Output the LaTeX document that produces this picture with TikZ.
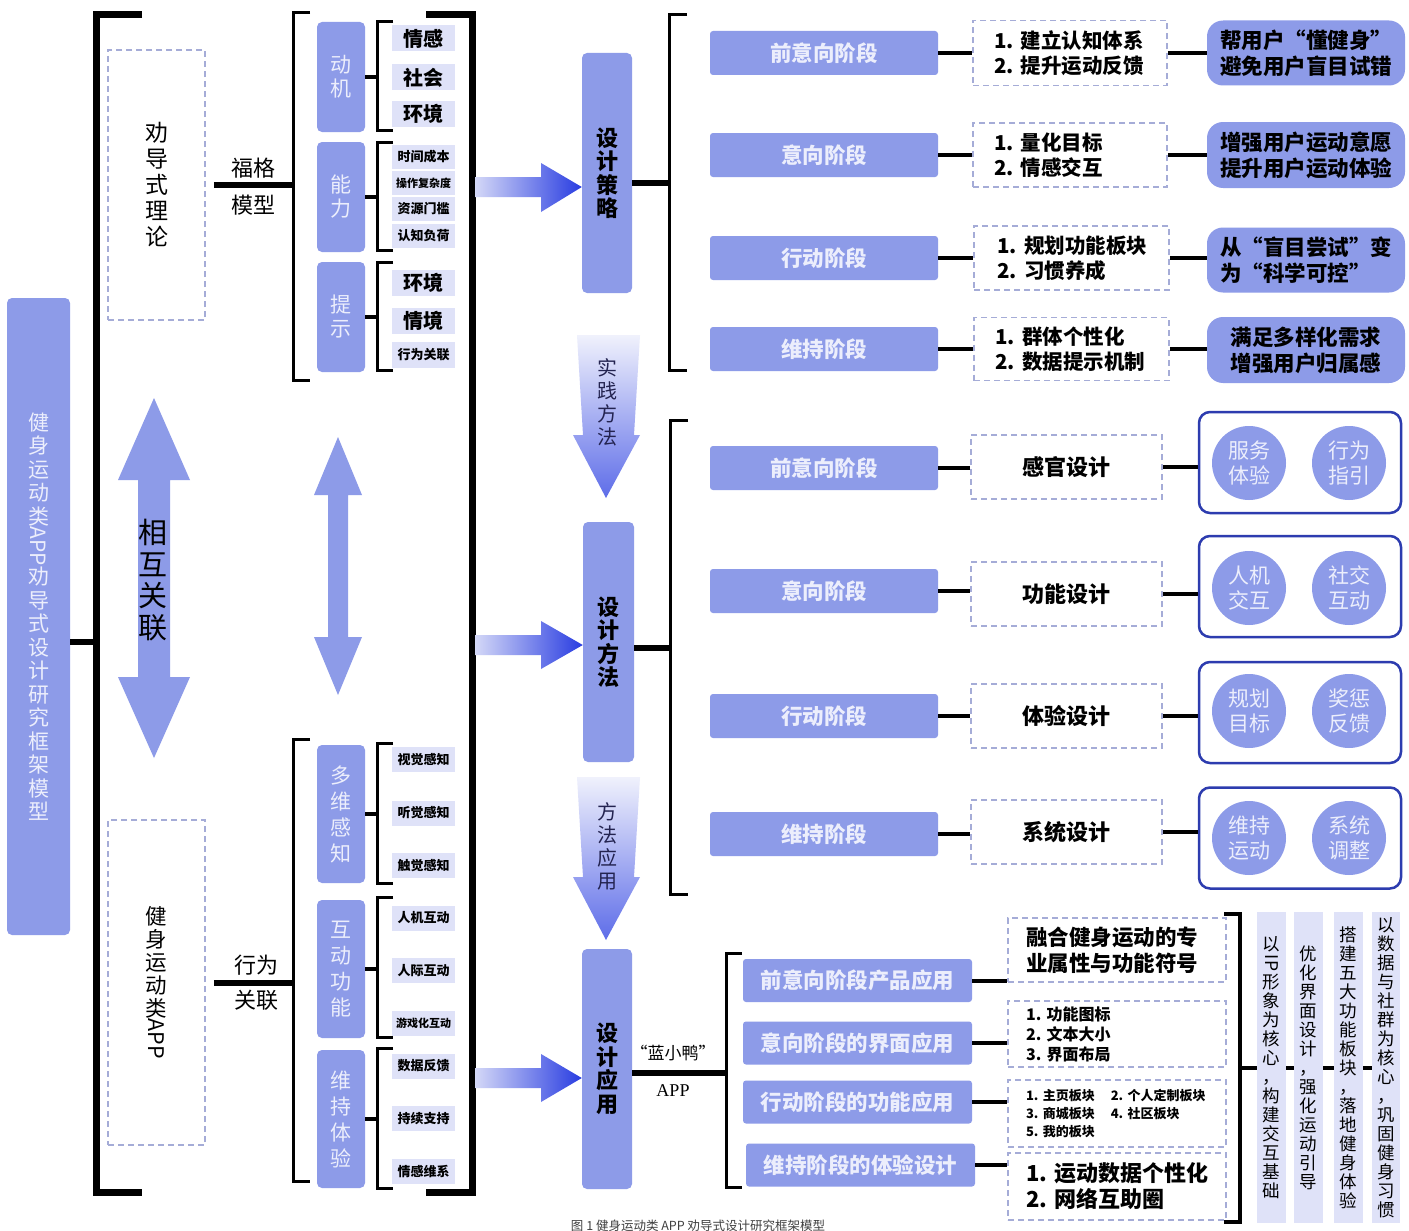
\documentclass[tikz,border=0pt]{standalone}
\usepackage{fontspec}
\setmainfont{Noto Sans CJK SC}
\newfontfamily\latinserif{Liberation Serif}
\usetikzlibrary{calc}
\definecolor{lavblue}{RGB}{141,155,232}
\definecolor{palelav}{RGB}{223,226,248}
\definecolor{dashgray}{RGB}{165,172,215}
\definecolor{navyline}{RGB}{45,60,175}
\definecolor{arrdark}{RGB}{40,60,225}
\definecolor{arrlight}{RGB}{212,216,247}
\definecolor{paletext}{RGB}{236,238,252}
\definecolor{inktext}{RGB}{35,35,80}
\newcommand\fsz[2]{\fontsize{#1}{#2}\selectfont}
\tikzset{
  bar/.style={fill=lavblue, rounded corners=5pt, inner sep=0pt, text=paletext},
  item/.style={fill=palelav, inner sep=0pt, minimum width=63pt, minimum height=26pt, font=\fsz{20}{22}\bfseries},
  itemsm/.style={item, minimum height=24pt, font=\fsz{13}{15}\bfseries},
  stage/.style={fill=lavblue, rounded corners=3pt, inner sep=0pt, minimum width=228pt, minimum height=44pt, text=paletext, font=\fsz{21.5}{24}\bfseries},
  dbox/.style={draw=dashgray, line width=1.5pt, dash pattern=on 6pt off 4pt, inner sep=0pt},
  pill/.style={fill=lavblue, rounded corners=16pt, inner sep=0pt, minimum width=198pt, minimum height=65pt, align=center, font=\fsz{21.5}{26}\bfseries},
  grp/.style={draw=navyline, line width=2.5pt, rounded corners=11pt, fill=white, minimum width=202pt, minimum height=101pt},
  circnode/.style={circle, fill=lavblue, minimum size=74pt, inner sep=0pt, align=center, text=paletext, font=\fsz{21}{25}},
  vcol/.style={fill=palelav, minimum height=311pt, inner sep=0pt, align=center, font=\fsz{17.5}{19}},
  link/.style={line width=4pt},
  brk/.style={line width=3pt},
  bigbrk/.style={line width=7pt},
}
\begin{document}
\begin{tikzpicture}[x=1pt, y=-1pt]
  \useasboundingbox (0,0) rectangle (1409,1231);
  \fill[white] (0,0) rectangle (1409,1231);

  % title column and outer bracket
  \node[bar, minimum width=63pt, minimum height=637pt, align=center, font=\fsz{21}{23.5}] (title) at (38.5,616.5) {健\\身\\运\\动\\类\\\rotatebox[origin=c]{-90}{APP}\\劝\\导\\式\\设\\计\\研\\究\\框\\架\\模\\型};
  \coordinate (mbT) at (96,15);
  \coordinate (mbB) at (96,1192);
  \draw[bigbrk] ([xshift=46pt]mbT) -- (mbT) -- (mbB) -- ([xshift=46pt]mbB);
  \draw[link, line width=6pt] ([yshift=-25.5pt]title.east) -- ([yshift=-25.5pt]title.east -| mbT);

  % theory and app category
  \node[dbox, minimum width=97pt, minimum height=270pt, align=center, font=\fsz{23}{26}] (theory) at (156.5,185) {劝\\导\\式\\理\\论};
  \node[dbox, minimum width=97pt, minimum height=325pt, align=center, font=\fsz{21.5}{23}] (appcat) at (156.5,982.5) {健\\身\\运\\动\\类\\\rotatebox[origin=c]{-90}{APP}};

  % mutual relation arrows
  \fill[lavblue] (154,398) -- (190,480) -- (170,480) -- (170,677) -- (190,677) -- (154,758) -- (118,677) -- (138,677) -- (138,480) -- (118,480) -- cycle;
  \node[font=\fsz{29}{31.5}, align=center] (mutual) at (153,580) {相\\互\\关\\联};
  \fill[lavblue] (338,437) -- (362,495) -- (348,495) -- (348,637) -- (362,637) -- (338,695) -- (314,637) -- (328,637) -- (328,495) -- (314,495) -- cycle;

  % Fogg model branch
  \coordinate (fgT) at (293,13);
  \coordinate (fgB) at (293,380);
  \draw[brk] ([xshift=17pt]fgT) -- (fgT) -- (fgB) -- ([xshift=17pt]fgB);
  \draw[link, line width=6pt] ([xshift=8pt]theory.east) -- (theory.east -| fgT);
  \node[font=\fsz{22}{24}] (fogg1) at (253,168) {福格};
  \node[font=\fsz{22}{24}] (fogg2) at (253,205) {模型};

  \node[bar, minimum width=48pt, minimum height=110pt, align=center, font=\fsz{21}{24}] (motiv) at (341,77) {动\\机};
  \node[bar, minimum width=48pt, minimum height=110pt, align=center, font=\fsz{21}{24}] (abil) at (341,197) {能\\力};
  \node[bar, minimum width=48pt, minimum height=110pt, align=center, font=\fsz{21}{24}] (prompt) at (341,317) {提\\示};

  \coordinate (b1T) at (377,22);
  \coordinate (b1B) at (377,130);
  \coordinate (b2T) at (377,142);
  \coordinate (b2B) at (377,250);
  \coordinate (b3T) at (377,262);
  \coordinate (b3B) at (377,370);
  \draw[brk] ([xshift=16pt]b1T) -- (b1T) -- (b1B) -- ([xshift=16pt]b1B);
  \draw[brk] ([xshift=16pt]b2T) -- (b2T) -- (b2B) -- ([xshift=16pt]b2B);
  \draw[brk] ([xshift=16pt]b3T) -- (b3T) -- (b3B) -- ([xshift=16pt]b3B);
  \draw[link] (motiv.east) -- (motiv.east -| b1T);
  \draw[link] (abil.east) -- (abil.east -| b2T);
  \draw[link] (prompt.east) -- (prompt.east -| b3T);

  \node[item] (emo) at (423.5,38.5) {情感};
  \node[item] (soc) at (423.5,77.5) {社会};
  \node[item] (env) at (423.5,113.5) {环境};
  \node[itemsm] (tcost) at (423.5,157) {时间成本};
  \node[itemsm, font=\fsz{11}{13}\bfseries] (ocomp) at (423.5,183) {操作复杂度};
  \node[itemsm] (rthr) at (423.5,209) {资源门槛};
  \node[itemsm] (cload) at (423.5,236) {认知负荷};
  \node[item] (env2) at (423.5,283) {环境};
  \node[item] (situ) at (423.5,321) {情境};
  \node[itemsm, minimum height=26pt] (brel) at (423.5,355) {行为关联};

  % behaviour relation branch
  \coordinate (bhT) at (293,739);
  \coordinate (bhB) at (293,1181);
  \draw[brk] ([xshift=17pt]bhT) -- (bhT) -- (bhB) -- ([xshift=17pt]bhB);
  \draw[link, line width=6pt] ([xshift=8pt]appcat.east) -- (appcat.east -| bhT);
  \node[font=\fsz{22}{24}] (behav1) at (256,965) {行为};
  \node[font=\fsz{22}{24}] (behav2) at (256,1000) {关联};

  \node[bar, minimum width=48pt, minimum height=138pt, align=center, font=\fsz{21}{26}] (multi) at (341,814) {多\\维\\感\\知};
  \node[bar, minimum width=48pt, minimum height=138pt, align=center, font=\fsz{21}{26}] (inter) at (341,969) {互\\动\\功\\能};
  \node[bar, minimum width=48pt, minimum height=138pt, align=center, font=\fsz{21}{26}] (keep) at (341,1119) {维\\持\\体\\验};

  \coordinate (b4T) at (377,743);
  \coordinate (b4B) at (377,883);
  \coordinate (b5T) at (377,897);
  \coordinate (b5B) at (377,1037);
  \coordinate (b6T) at (377,1048);
  \coordinate (b6B) at (377,1188);
  \draw[brk] ([xshift=16pt]b4T) -- (b4T) -- (b4B) -- ([xshift=16pt]b4B);
  \draw[brk] ([xshift=16pt]b5T) -- (b5T) -- (b5B) -- ([xshift=16pt]b5B);
  \draw[brk] ([xshift=16pt]b6T) -- (b6T) -- (b6B) -- ([xshift=16pt]b6B);
  \draw[link] (multi.east) -- (multi.east -| b4T);
  \draw[link] (inter.east) -- (inter.east -| b5T);
  \draw[link] (keep.east) -- (keep.east -| b6T);

  \node[itemsm, minimum height=25pt] (vis) at (423.5,759.5) {视觉感知};
  \node[itemsm, minimum height=25pt] (aud) at (423.5,813) {听觉感知};
  \node[itemsm, minimum height=25pt] (tac) at (423.5,865.5) {触觉感知};
  \node[itemsm, minimum height=25pt] (hci) at (423.5,918) {人机互动};
  \node[itemsm, minimum height=25pt] (hhi) at (423.5,970.5) {人际互动};
  \node[itemsm, minimum height=25pt, font=\fsz{11}{13}\bfseries] (game) at (423.5,1023.5) {游戏化互动};
  \node[itemsm, minimum height=25pt] (dfb) at (423.5,1066) {数据反馈};
  \node[itemsm, minimum height=25pt] (csup) at (423.5,1118.5) {持续支持};
  \node[itemsm, minimum height=25pt] (emob) at (423.5,1171.5) {情感维系};

  % right bracket of the model
  \coordinate (rbT) at (472,15);
  \coordinate (rbB) at (472,1192);
  \draw[bigbrk] ([xshift=-46pt]rbT) -- (rbT) -- (rbB) -- ([xshift=-46pt]rbB);

  % design column
  \node[bar, minimum width=50pt, minimum height=240pt, align=center, text=black, font=\fsz{22}{23.5}\bfseries] (strat) at (607,173) {设\\计\\策\\略};
  \node[bar, minimum width=51pt, minimum height=240pt, align=center, text=black, font=\fsz{22}{23.5}\bfseries] (meth) at (608.5,642) {设\\计\\方\\法};
  \node[bar, minimum width=50pt, minimum height=240pt, align=center, text=black, font=\fsz{22}{23.5}\bfseries] (apply) at (607,1069) {设\\计\\应\\用};

  \shade[left color=arrlight, right color=arrdark] (475,177) -- (541,177) -- (541,163) -- (strat.west |- 0,187) -- (541,212) -- (541,197) -- (475,197) -- cycle;
  \shade[left color=arrlight, right color=arrdark] (475,635) -- (541,635) -- (541,621) -- (meth.west |- 0,645) -- (541,669) -- (541,655) -- (475,655) -- cycle;
  \shade[left color=arrlight, right color=arrdark] (475,1068) -- (541,1068) -- (541,1054) -- (apply.west |- 0,1078) -- (541,1102) -- (541,1088) -- (475,1088) -- cycle;

  \shade[top color=arrlight!35!white, bottom color=arrdark!75!white] (577,335) -- (640,335) -- (634,435) -- (640,435) -- (606,498) -- (573,435) -- (583,435) -- cycle;
  \node[font=\fsz{20}{23}, align=center, text=inktext] (practice) at (607,402) {实\\践\\方\\法};
  \shade[top color=arrlight!35!white, bottom color=arrdark!75!white] (577,777) -- (640,777) -- (634,877) -- (640,877) -- (606,940) -- (573,877) -- (583,877) -- cycle;
  \node[font=\fsz{20}{23}, align=center, text=inktext] (useit) at (607,846) {方\\法\\应\\用};

  % design strategy rows
  \coordinate (sbT) at (669,15);
  \coordinate (sbB) at (669,370);
  \draw[brk] ([xshift=18pt]sbT) -- (sbT) -- (sbB) -- ([xshift=18pt]sbB);
  \draw[link, line width=6pt] ([yshift=-10pt]strat.east) -- ([yshift=-10pt]strat.east -| sbT);

  \node[stage] (s1) at (824,53) {前意向阶段};
  \node[stage] (s2) at (824,155) {意向阶段};
  \node[stage] (s3) at (824,258) {行动阶段};
  \node[stage] (s4) at (824,349) {维持阶段};
  \node[dbox, minimum width=194pt, minimum height=65pt, text width=152pt, align=left, font=\fsz{20.5}{25}\bfseries] (d1) at (1070,53) {1.~建立认知体系\\2.~提升运动反馈};
  \node[dbox, minimum width=194pt, minimum height=64pt, text width=152pt, align=left, font=\fsz{20.5}{25}\bfseries] (d2) at (1070,155) {1.~量化目标\\2.~情感交互};
  \node[dbox, minimum width=195pt, minimum height=64pt, text width=148pt, align=left, font=\fsz{20.5}{25}\bfseries] (d3) at (1071.5,258) {1.~规划功能板块\\2.~习惯养成};
  \node[dbox, minimum width=195pt, minimum height=63pt, text width=152pt, align=left, font=\fsz{20.5}{25}\bfseries] (d4) at (1071.5,349) {1.~群体个性化\\2.~数据提示机制};
  \node[pill] (p1) at (1306,53) {帮用户“懂健身”\\避免用户盲目试错};
  \node[pill, minimum height=66pt] (p2) at (1306,155) {增强用户运动意愿\\提升用户运动体验};
  \node[pill, align=left] (p3) at (1306,260) {从“盲目尝试”变\\为“科学可控”};
  \node[pill, minimum height=66pt] (p4) at (1306,350) {满足多样化需求\\增强用户归属感};
  \draw[link] (s1) -- (d1);
  \draw[link] (s2) -- (d2);
  \draw[link] (s3) -- (d3);
  \draw[link] (s4) -- (d4);
  \draw[link] (d1.east) -- (d1.east -| p1.west);
  \draw[link] (d2.east) -- (d2.east -| p2.west);
  \draw[link] (d3.east) -- (d3.east -| p3.west);
  \draw[link] (d4.east) -- (d4.east -| p4.west);

  % design method rows
  \coordinate (mrT) at (670,420);
  \coordinate (mrB) at (670,894);
  \draw[brk] ([xshift=18pt]mrT) -- (mrT) -- (mrB) -- ([xshift=18pt]mrB);
  \draw[link, line width=6pt] ([yshift=-6pt]meth.east) -- ([yshift=-6pt]meth.east -| mrT);

  \node[stage] (m1) at (824,468) {前意向阶段};
  \node[stage] (m2) at (824,591) {意向阶段};
  \node[stage] (m3) at (824,716) {行动阶段};
  \node[stage] (m4) at (824,834) {维持阶段};
  \node[dbox, minimum width=191pt, minimum height=64pt, font=\fsz{22}{25}\bfseries] (e1) at (1066.5,467) {感官设计};
  \node[dbox, minimum width=191pt, minimum height=64pt, font=\fsz{22}{25}\bfseries] (e2) at (1066.5,594) {功能设计};
  \node[dbox, minimum width=191pt, minimum height=64pt, font=\fsz{22}{25}\bfseries] (e3) at (1066.5,716) {体验设计};
  \node[dbox, minimum width=191pt, minimum height=64pt, font=\fsz{22}{25}\bfseries] (e4) at (1066.5,832) {系统设计};
  \node[grp] (g1) at (1300,462.5) {};
  \node[grp] (g2) at (1300,586.5) {};
  \node[grp] (g3) at (1300,712.5) {};
  \node[grp] (g4) at (1300,838) {};
  \node[circnode] (c1a) at (1249,463) {服务\\体验};
  \node[circnode] (c1b) at (1349,463) {行为\\指引};
  \node[circnode] (c2a) at (1249,588) {人机\\交互};
  \node[circnode] (c2b) at (1349,588) {社交\\互动};
  \node[circnode] (c3a) at (1249,711) {规划\\目标};
  \node[circnode] (c3b) at (1349,711) {奖惩\\反馈};
  \node[circnode] (c4a) at (1249,838) {维持\\运动};
  \node[circnode] (c4b) at (1349,838) {系统\\调整};
  \draw[link] (m1.east) -- (m1.east -| e1.west);
  \draw[link] (m2.east) -- (m2.east -| e2.west);
  \draw[link] (m3.east) -- (m3.east -| e3.west);
  \draw[link] (m4.east) -- (m4.east -| e4.west);
  \draw[link] (e1.east) -- (e1.east -| g1.west);
  \draw[link] (e2.east) -- (e2.east -| g2.west);
  \draw[link] (e3.east) -- (e3.east -| g3.west);
  \draw[link] (e4.east) -- (e4.east -| g4.west);

  % design application rows
  \coordinate (abT) at (726,953);
  \coordinate (abB) at (726,1187);
  \draw[brk] ([xshift=16pt]abT) -- (abT) -- (abB) -- ([xshift=16pt]abB);
  \draw[link, line width=6pt] ([yshift=-4pt]apply.east) -- ([yshift=-4pt]apply.east -| abT);
  \node[font=\fsz{17}{19}] (duck) at (673,1053) {“蓝小鸭”};
  \node[font=\latinserif\fsz{18}{20}] (duckapp) at (673,1091) {APP};

  \node[stage, minimum width=229pt, minimum height=43pt] (a1) at (857.5,980.5) {前意向阶段产品应用};
  \node[stage, minimum width=229pt, minimum height=43pt] (a2) at (857.5,1043) {意向阶段的界面应用};
  \node[stage, minimum width=229pt, minimum height=43pt] (a3) at (857.5,1102) {行动阶段的功能应用};
  \node[stage, minimum width=229pt, minimum height=43pt] (a4) at (860.5,1165) {维持阶段的体验设计};
  \node[dbox, minimum width=218pt, minimum height=64pt, text width=182pt, align=left, font=\fsz{21.5}{26}\bfseries] (q1) at (1117,950) {融合健身运动的专\\业属性与功能符号};
  \node[dbox, minimum width=218pt, minimum height=66pt, text width=182pt, align=left, font=\fsz{16}{20}\bfseries] (q2) at (1117,1034) {1.~功能图标\\2.~文本大小\\3.~界面布局};
  \node[dbox, minimum width=218pt, minimum height=67pt, text width=182pt, align=left, font=\fsz{13}{18}\bfseries] (q3) at (1117,1113.5) {\mbox{1.~主页板块\hspace{16pt}2.~个人定制板块}\\\mbox{3.~商城板块\hspace{16pt}4.~社区板块}\\\mbox{5.~我的板块}};
  \node[dbox, minimum width=218pt, minimum height=67pt, text width=182pt, align=left, font=\fsz{22}{26}\bfseries] (q4) at (1117,1186.5) {1.~运动数据个性化\\2.~网络互助圈};
  \draw[link] (a1.east) -- (a1.east -| q1.west);
  \draw[link] (a2.east) -- (a2.east -| q2.west);
  \draw[link] (a3.east) -- (a3.east -| q3.west);
  \draw[link] (a4.east) -- (a4.east -| q4.west);

  \coordinate (qbT) at (1240,914);
  \coordinate (qbB) at (1240,1222);
  \draw[brk, line width=4pt] ([xshift=-16pt]qbT) -- (qbT) -- (qbB) -- ([xshift=-16pt]qbB);

  \node[vcol, minimum width=29pt] (v1) at (1271.5,1067.5) {以\\\rotatebox[origin=c]{-90}{IP}\\形\\象\\为\\核\\心\\，\\构\\建\\交\\互\\基\\础};
  \node[vcol, minimum width=29pt] (v2) at (1308.5,1067.5) {优\\化\\界\\面\\设\\计\\，\\强\\化\\运\\动\\引\\导};
  \node[vcol, minimum width=29pt] (v3) at (1348.5,1067.5) {搭\\建\\五\\大\\功\\能\\板\\块\\，\\落\\地\\健\\身\\体\\验};
  \node[vcol, minimum width=28pt] (v4) at (1386,1067.5) {以\\数\\据\\与\\社\\群\\为\\核\\心\\，\\巩\\固\\健\\身\\习\\惯};
  \draw[link] (v1.west -| qbT) -- (v1.west);
  \draw[link] (v1.east) -- (v2.west);
  \draw[link] (v2.east) -- (v3.west);
  \draw[link] (v3.east) -- (v4.west);

  % caption
  \node[font=\fsz{12.5}{14}, text=black!75] (caption) at (698,1226) {图 1 健身运动类 APP 劝导式设计研究框架模型};
\end{tikzpicture}
\end{document}
